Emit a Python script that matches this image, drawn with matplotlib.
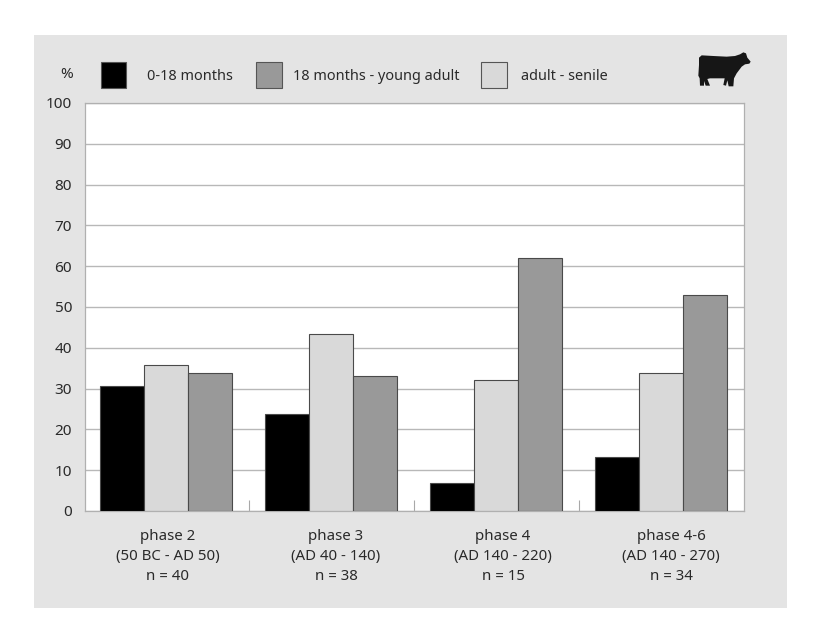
import numpy as np
import matplotlib
matplotlib.use('Agg')
import matplotlib.pyplot as plt
from matplotlib.patches import Rectangle, Polygon

W, H = 824, 639

PHASES = ['phase 2\n(50 BC - AD 50)\nn = 40', 'phase 3\n(AD 40 - 140)\nn = 38',
          'phase 4\n(AD 140 - 220)\nn = 15', 'phase 4-6\n(AD 140 - 270)\nn = 34']
YOUNG = [30.7, 23.8, 6.9, 13.3]
SENILE = [35.8, 43.5, 32.0, 33.9]
MIDDLE = [33.9, 33.0, 61.9, 53.0]
LEGEND_LABELS = ['0-18 months', '18 months - young adult', 'adult - senile']
YTICKS = list(range(0, 101, 10))

BLACK = '#000000'
LIGHT = '#d9d9d9'
DARK = '#999999'
PANEL = '#e4e4e4'
GRID = '#b8b8b8'
TEXT = '#2a2a2a'

plt.rcParams['font.family'] = ['Noto Sans', 'DejaVu Sans']
plt.rcParams['font.size'] = 11


def fx(x):
    return x/W

def fy(y):
    return 1 - y/H


fig = plt.figure(figsize=(W/100, H/100), dpi=100, facecolor='white')
fig.add_artist(Rectangle((fx(34), fy(608)), 753/W, 573/H, transform=fig.transFigure,
                         facecolor=PANEL, edgecolor='none', zorder=0))

ax = fig.add_axes([fx(84.5), fy(511), 659.5/W, 408/H], facecolor='white', zorder=1)
x = np.arange(len(PHASES))
w = 0.267
for off, vals, col in [(-w, YOUNG, BLACK), (0, SENILE, LIGHT), (w, MIDDLE, DARK)]:
    ax.bar(x + off - 0.006, vals, width=w, color=col, edgecolor='#4a4a4a', linewidth=0.8, zorder=3)

ax.set_xlim(-0.5, len(PHASES) - 0.5)
ax.set_ylim(0, 100)
ax.set_yticks(YTICKS)
ax.yaxis.grid(True, color=GRID, linewidth=1)
ax.set_axisbelow(True)
ax.tick_params(axis='y', length=0, pad=9, labelsize=11, labelcolor=TEXT)

# short separators between the groups, drawn inside the plot
ax.set_xticks(x[:-1] + 0.5)
ax.set_xticklabels([])
ax.tick_params(axis='x', direction='in', length=8, width=0.8, color='#a8a8a8')

# the captions sit a bit wider apart than the groups in the original
for label, cx in zip(PHASES, [167.5, 336, 503, 671]):
    fig.text(fx(cx), fy(529), label, ha='center', va='top', color=TEXT,
             fontsize=10.8, linespacing=1.44)

for s in ['top', 'left', 'right', 'bottom']:
    ax.spines[s].set_color('#b0b0b0')
    ax.spines[s].set_linewidth(0.9)

fig.text(fx(67), fy(74), '%', ha='center', va='center', color=TEXT, fontsize=11)

legend_items = [(100.5, BLACK, 147, LEGEND_LABELS[0]), (256, DARK, 293, LEGEND_LABELS[1]),
                (481, LIGHT, 521, LEGEND_LABELS[2])]
for px, col, tx, label in legend_items:
    fig.add_artist(Rectangle((fx(px), fy(88)), 25.5/W, 25.5/H, transform=fig.transFigure,
                             facecolor=col, edgecolor='#555555', linewidth=0.8, zorder=2))
    fig.text(fx(tx), fy(76), label, ha='left', va='center', color=TEXT, fontsize=10.4)

COW = [(27, 38), (35, 31), (70, 33), (110, 35), (135, 33), (150, 28), (160, 22), (168, 25),
       (172, 38), (182, 50), (178, 56), (165, 58), (155, 65), (140, 85), (132, 100), (130, 124),
       (116, 124), (112, 106), (108, 122), (100, 120), (104, 100), (60, 100), (52, 102), (60, 122),
       (47, 122), (42, 108), (42, 122), (30, 122), (29, 100), (25, 92), (27, 60)]
fig.add_artist(Polygon([(fx(690 + a/3), fy(45 + b/3)) for a, b in COW], closed=True,
                       transform=fig.transFigure, facecolor='#161616', edgecolor='none', zorder=2))

fig.savefig('out.png', dpi=100, facecolor='white')
